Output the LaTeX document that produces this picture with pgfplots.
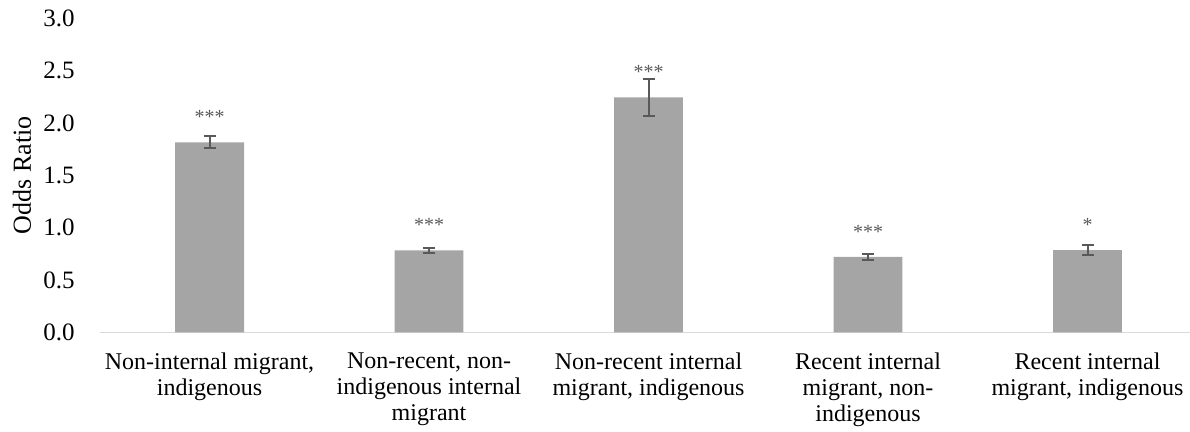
\documentclass[border=0pt]{standalone}
\usepackage{fontspec}
\setmainfont{Liberation Serif}
\usepackage{pgfplots}
\usepackage{pgfplotstable}
\pgfplotsset{compat=1.18}
\definecolor{barg}{HTML}{A5A5A5}
\definecolor{errg}{HTML}{595959}
\definecolor{axg}{HTML}{D9D9D9}
\pgfplotstableread{
x y ep em lab
0 1.815 0.057 0.057 ***
1 0.783 0.022 0.024 ***
2 2.245 0.175 0.175 ***
3 0.720 0.026 0.028 ***
4 0.786 0.048 0.048 *
}\datatab
\begin{document}
\begin{tikzpicture}
\begin{axis}[
  scale only axis, width=545.1pt, height=157pt,
  xmin=-0.5, xmax=4.467, ymin=0, ymax=3,
  axis x line*=bottom, axis y line*=left,
  y axis line style={draw=none},
  x axis line style={draw=axg, line width=0.75pt},
  tick style={draw=none},
  xtick={0,1,2,3,4},
  xticklabels={{Non-internal migrant,\\indigenous},{Non-recent, non-\\indigenous internal\\migrant},{Non-recent internal\\migrant, indigenous},{Recent internal\\migrant, non-\\indigenous},{Recent internal\\migrant, indigenous}},
  xticklabel style={align=center, anchor=north, inner sep=0pt, yshift=-10pt, font=\fontsize{12}{13}\selectfont},
  ytick={0,0.5,...,3},
  yticklabel style={anchor=east, inner sep=0pt, xshift=-12.4pt, font=\fontsize{12.5}{14}\selectfont,
    /pgf/number format/.cd, fixed, fixed zerofill, precision=1, assume math mode=true},
  ylabel={Odds Ratio},
  ylabel style={at={(axis description cs:-0.0714,0.5)}, anchor=center, rotate=0, font=\fontsize{13}{14}\selectfont},
]
\addplot[ybar, bar width=0.314, fill=barg, draw=none,
  nodes near coords, point meta=explicit symbolic,
  every node near coord/.style={anchor=base, yshift=9.25pt, inner sep=0pt, text=errg, font=\fontsize{10}{11}\selectfont},
  error bars/.cd, y dir=both, y explicit,
  error bar style={errg, line width=1pt},
  error mark=|,
  error mark options={errg, line width=1pt, mark size=3pt}]
  table[x=x, y=y, y error plus=ep, y error minus=em, meta=lab]{\datatab};
\end{axis}
\pgfresetboundingbox
\path[use as bounding box] ([xshift=-49.9pt,yshift=-49.85pt]current axis.south west) rectangle ([yshift=9.15pt]current axis.north east);
\end{tikzpicture}
\end{document}
